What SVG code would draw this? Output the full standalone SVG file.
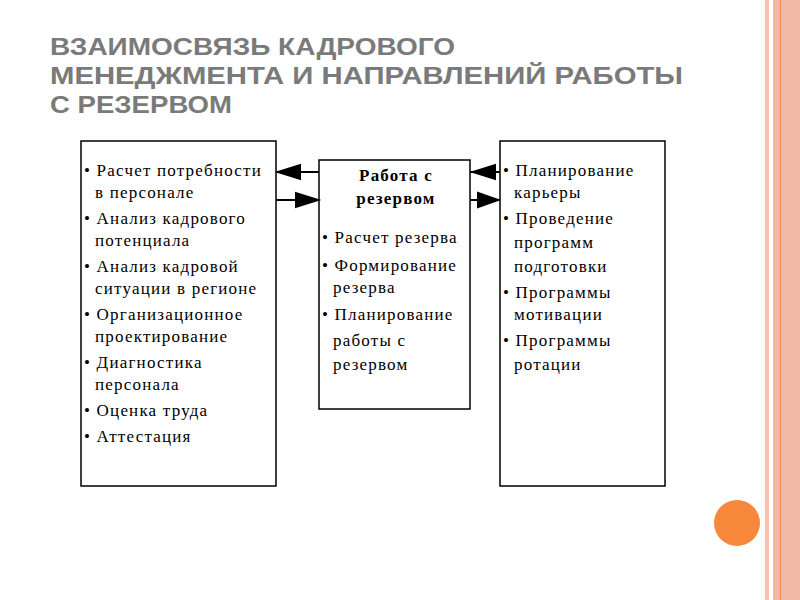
<svg xmlns="http://www.w3.org/2000/svg" width="800" height="600" viewBox="0 0 800 600">
<style>
.t{font-family:"Liberation Serif",serif;font-size:17px;letter-spacing:1.2px;fill:#000}
.h{font-family:"Liberation Sans",sans-serif;font-weight:bold;font-size:23px;fill:#7a7a7a}
.box{fill:#fff;stroke:#000;stroke-width:1.5}
</style>
<rect width="800" height="600" fill="#fff"/>
<rect x="765" y="0" width="4" height="600" fill="#f4c2b0"/>
<rect x="773" y="0" width="27" height="600" fill="#f2b8a6"/>
<rect x="780" y="0" width="1" height="600" fill="#f08a50"/>
<circle cx="737" cy="523" r="23" fill="#f7883b"/>
<text class="h" x="50" y="55" textLength="405" lengthAdjust="spacingAndGlyphs">ВЗАИМОСВЯЗЬ КАДРОВОГО</text>
<text class="h" x="50" y="84" textLength="633" lengthAdjust="spacingAndGlyphs">МЕНЕДЖМЕНТА И НАПРАВЛЕНИЙ РАБОТЫ</text>
<text class="h" x="50" y="113" textLength="182" lengthAdjust="spacingAndGlyphs">С РЕЗЕРВОМ</text>
<g id="left">
<rect class="box" x="81" y="141" width="195" height="345"/>
<text class="t"><tspan x="84" y="176">• Расчет потребности</tspan><tspan x="95" y="198">в персонале</tspan><tspan x="84" y="224">• Анализ кадрового</tspan><tspan x="95" y="246">потенциала</tspan><tspan x="84" y="272">• Анализ кадровой</tspan><tspan x="95" y="294">ситуации в регионе</tspan><tspan x="84" y="320">• Организационное</tspan><tspan x="95" y="342">проектирование</tspan><tspan x="84" y="368">• Диагностика</tspan><tspan x="95" y="390">персонала</tspan><tspan x="84" y="416">• Оценка труда</tspan><tspan x="84" y="442">• Аттестация</tspan></text>
</g>
<g id="middle">
<rect class="box" x="319" y="160" width="151" height="249"/>
<text class="t" font-weight="bold" text-anchor="middle"><tspan x="396" y="181">Работа с</tspan><tspan x="396" y="204">резервом</tspan></text>
<text class="t"><tspan x="322" y="243">• Расчет резерва</tspan><tspan x="322" y="271">• Формирование</tspan><tspan x="333" y="293">резерва</tspan><tspan x="322" y="320">• Планирование</tspan><tspan x="333" y="346">работы с</tspan><tspan x="333" y="370">резервом</tspan></text>
</g>
<g id="right">
<rect class="box" x="500" y="141" width="165" height="345"/>
<text class="t"><tspan x="503" y="176">• Планирование</tspan><tspan x="514" y="198">карьеры</tspan><tspan x="503" y="224">• Проведение</tspan><tspan x="514" y="248">программ</tspan><tspan x="514" y="272">подготовки</tspan><tspan x="503" y="298">• Программы</tspan><tspan x="514" y="320">мотивации</tspan><tspan x="503" y="346">• Программы</tspan><tspan x="514" y="370">ротации</tspan></text>
</g>
<g id="connectors" stroke="#000" stroke-width="2" fill="#000">
<line x1="277" y1="172" x2="319" y2="172"/>
<polygon points="278,172 300,165 300,179"/>
<line x1="276" y1="200" x2="319" y2="200"/>
<polygon points="318,200 296,193 296,207"/>
<line x1="470" y1="172" x2="500" y2="172"/>
<polygon points="473,172 495,165 495,179"/>
<line x1="470" y1="200" x2="500" y2="200"/>
<polygon points="498,200 478,193 478,207"/>
</g>
</svg>
